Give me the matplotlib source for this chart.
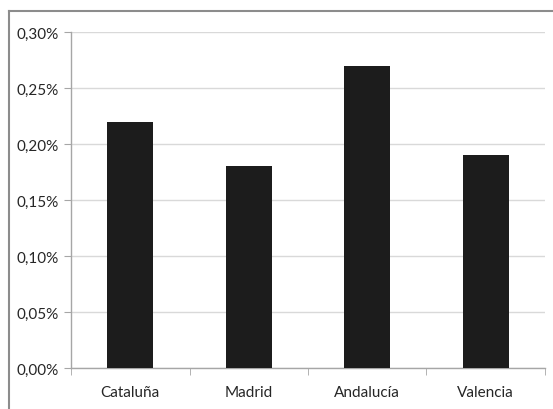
import matplotlib
matplotlib.use("Agg")
import matplotlib.pyplot as plt
from matplotlib.lines import Line2D
from matplotlib.ticker import FuncFormatter, FixedLocator

categories = ["Cataluña", "Madrid", "Andalucía", "Valencia"]
values = [0.22, 0.18, 0.27, 0.19]
y_ticks = [0.0, 0.05, 0.10, 0.15, 0.20, 0.25, 0.30]

plt.rcParams['font.family'] = ['Lato', 'DejaVu Sans']

fig = plt.figure(figsize=(5.53, 4.10), dpi=100)
ax = fig.add_axes([71 / 553, 41 / 410, 474 / 553, 336 / 410])

x = range(len(categories))
ax.bar(x, values, width=0.39, color="#1c1c1c", zorder=3)

ax.set_xlim(-0.5, len(categories) - 0.5)
ax.set_ylim(0, 0.30)
ax.set_yticks(y_ticks)
ax.yaxis.set_major_formatter(FuncFormatter(lambda v, p: f"{v:.2f}%".replace(".", ",")))
ax.grid(axis="y", color="#d9d9d9", linewidth=1, zorder=0)

ax.set_xticks(list(x))
ax.set_xticklabels(categories)
ax.xaxis.set_minor_locator(FixedLocator([i - 0.5 for i in range(len(categories) + 1)]))
ax.tick_params(axis="x", which="major", length=0, pad=12, labelsize=11, colors="#262626")
ax.tick_params(axis="x", which="minor", length=5, color="#a6a6a6", direction="out")
ax.tick_params(axis="y", length=5, color="#a6a6a6", pad=4, labelsize=11, labelcolor="#262626")

for s in ["top", "right"]:
    ax.spines[s].set_visible(False)
for s in ["left", "bottom"]:
    ax.spines[s].set_color("#a6a6a6")
    ax.spines[s].set_linewidth(1)

# outer chart border (only top and left visible)
fig.add_artist(Line2D([9 / 553, 9 / 553], [0, 1 - 12 / 410], transform=fig.transFigure,
                      color="#8c8c8c", linewidth=1.5))
fig.add_artist(Line2D([9 / 553, 1], [1 - 12 / 410, 1 - 12 / 410], transform=fig.transFigure,
                      color="#8c8c8c", linewidth=1.5))

fig.savefig("out.png", dpi=100, facecolor="white")
